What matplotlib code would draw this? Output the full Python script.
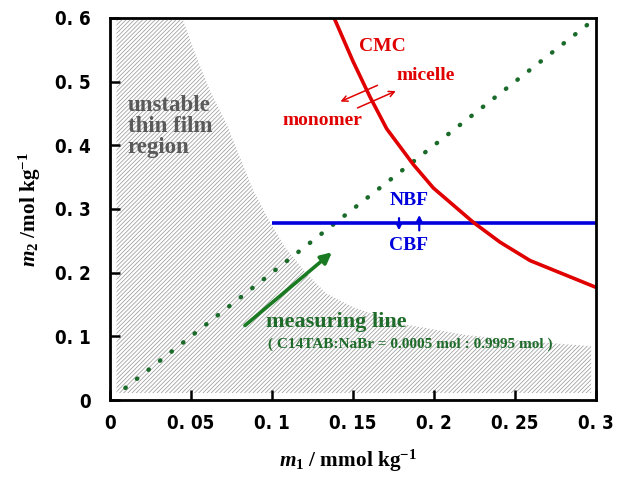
import matplotlib
matplotlib.use("Agg")
import matplotlib.pyplot as plt
import numpy as np

# Data
cmc_x = [0.1387, 0.1500, 0.1605, 0.1708, 0.1872, 0.1996, 0.2243, 0.2407, 0.2593, 0.3004]
cmc_y = [0.598, 0.532, 0.476, 0.426, 0.370, 0.333, 0.279, 0.248, 0.219, 0.1765]

nbf_x = [0.1, 0.3]
nbf_y = [0.278, 0.278]

meas_x = [0.0095, 0.2975]
meas_y = [0.019, 0.595]

# unstable region boundary (upper-right edge), from top to bottom-right
reg_x = [0.004, 0.045, 0.0535, 0.0617, 0.072, 0.0802, 0.0885, 0.0988, 0.108, 0.1214,
         0.1337, 0.150, 0.179, 0.220, 0.261, 0.297, 0.297, 0.004]
reg_y = [0.597, 0.597, 0.538, 0.486, 0.4335, 0.381, 0.329, 0.279, 0.240, 0.1985,
         0.167, 0.146, 0.120, 0.102, 0.0914, 0.0846, 0.011, 0.011]

xticks = [0, 0.05, 0.1, 0.15, 0.2, 0.25, 0.3]
xticklabels = ["0", "0. 05", "0. 1", "0. 15", "0. 2", "0. 25", "0. 3"]
yticks = [0, 0.1, 0.2, 0.3, 0.4, 0.5, 0.6]
yticklabels = ["0", "0. 1", "0. 2", "0. 3", "0. 4", "0. 5", "0. 6"]

plt.rcParams['hatch.linewidth'] = 0.55
plt.rcParams['hatch.color'] = '#9c9c9c'
plt.rcParams['mathtext.fontset'] = 'custom'
plt.rcParams['mathtext.rm'] = 'Liberation Serif:bold'
plt.rcParams['mathtext.it'] = 'Liberation Serif:italic:bold'
plt.rcParams['mathtext.bf'] = 'Liberation Serif:bold'

fig = plt.figure(figsize=(6.22, 4.79), dpi=100)
ax = fig.add_axes([110/622, 1-400/479, (596-110)/622, (400-18)/479])

ax.fill(reg_x, reg_y, facecolor='none', edgecolor='#9c9c9c', hatch='////////', linewidth=0)

ax.plot(meas_x, meas_y, linestyle=(0, (0.1, 3.2)), color='#1a6b2a', linewidth=3.2,
        dash_capstyle='round')
ax.plot(nbf_x, nbf_y, color='#0000dd', linewidth=2.6, solid_capstyle='butt')
ax.plot(cmc_x, cmc_y, color='#e00000', linewidth=2.6)

ax.set_xlim(0, 0.3)
ax.set_ylim(0, 0.6)

tickfont = dict(family=['DejaVu Sans'], weight='bold', stretch='condensed', size=13.5)
ax.set_xticks(xticks)
ax.set_xticklabels(xticklabels, fontdict=tickfont)
ax.set_yticks(yticks)
ax.set_yticklabels(yticklabels, fontdict=tickfont)
ax.tick_params(direction='in', length=7, width=1.8, top=False, right=False)
ax.tick_params(axis='x', pad=10)
ax.tick_params(axis='y', pad=14)
for s in ax.spines.values():
    s.set_linewidth(2.0)

serif = ['Liberation Serif', 'DejaVu Serif']
ax.set_xlabel(r'$\mathit{m}_{\mathbf{1}}$' + ' / mmol kg' + r'$^{\mathbf{-1}}$',
              fontsize=15.3, family=serif, weight='bold')
ax.xaxis.set_label_coords(0.49, -0.125)
ax.set_ylabel(r'$\mathit{m}_{\mathbf{2}}$' + ' /mol kg' + r'$^{\mathbf{-1}}$',
              fontsize=15.3, family=serif, weight='bold')
ax.yaxis.set_label_coords(-0.138, 0.5)

ax.text(0.011, 0.43, 'unstable\nthin film\nregion', color='#5a5a5a', family=serif,
        weight='bold', fontsize=16.5, linespacing=1.0, va='center', ha='left')

red = '#e00000'
fs = 14
ax.text(0.168, 0.556, 'CMC', color=red, family=serif, weight='bold', fontsize=fs,
        ha='center', va='center')
ax.text(0.1950, 0.510, 'micelle', color=red, family=serif, weight='bold', fontsize=fs,
        ha='center', va='center')
ax.text(0.1310, 0.439, 'monomer', color=red, family=serif, weight='bold', fontsize=fs,
        ha='center', va='center')
ax.annotate('', xy=(0.1407, 0.467), xytext=(0.1667, 0.496),
            arrowprops=dict(arrowstyle='->', color=red, lw=1.1, mutation_scale=10))
ax.annotate('', xy=(0.1780, 0.487), xytext=(0.1512, 0.457),
            arrowprops=dict(arrowstyle='->', color=red, lw=1.1, mutation_scale=10))

blue = '#0000dd'
ax.text(0.1845, 0.313, 'NBF', color=blue, family=serif, weight='bold', fontsize=fs,
        ha='center', va='center')
ax.text(0.1845, 0.242, 'CBF', color=blue, family=serif, weight='bold', fontsize=fs,
        ha='center', va='center')
ax.annotate('', xy=(0.1784, 0.262), xytext=(0.1784, 0.290),
            arrowprops=dict(arrowstyle='-|>', color=blue, lw=1.6, mutation_scale=8))
ax.annotate('', xy=(0.1909, 0.295), xytext=(0.1909, 0.262),
            arrowprops=dict(arrowstyle='-|>', color=blue, lw=1.6, mutation_scale=8))

green = '#1a7a22'
ax.annotate('', xy=(0.1370, 0.232), xytext=(0.0833, 0.117),
            arrowprops=dict(arrowstyle='-|>', color=green, lw=2.6, mutation_scale=16,
                            shrinkA=0, shrinkB=0))
ax.text(0.0966, 0.122, 'measuring line', color='#1e6b2a', family=serif, weight='bold',
        fontsize=16, ha='left', va='center')
ax.text(0.0975, 0.087, '( C14TAB:NaBr = 0.0005 mol : 0.9995 mol )', color='#1e6b2a',
        family=serif, weight='bold', fontsize=11, ha='left', va='center')

fig.savefig('out.png', dpi=100)
